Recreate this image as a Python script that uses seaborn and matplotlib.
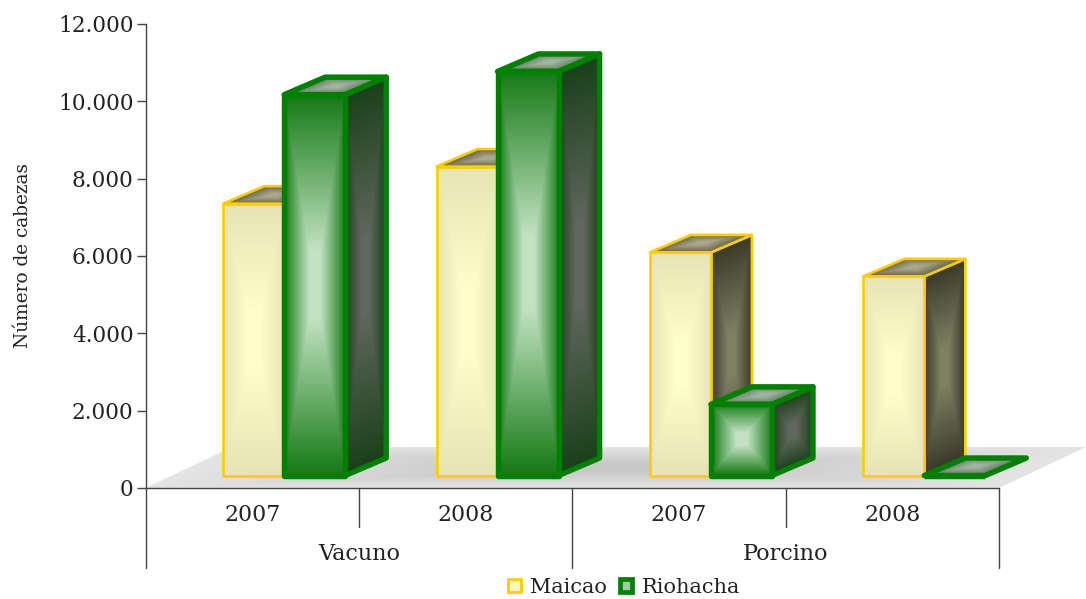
#!/usr/bin/env python

import numpy as np
import pandas as pd
import seaborn as sns
import matplotlib
matplotlib.use('Agg')
import matplotlib.pyplot as plt
from matplotlib.colors import to_rgb
from matplotlib.patches import Polygon, Patch
from matplotlib.ticker import FuncFormatter
from matplotlib.transforms import Affine2D, IdentityTransform

groups = ['Vacuno', 'Vacuno', 'Porcino', 'Porcino']
years = ['2007', '2008', '2007', '2008']
maicao = [7030, 7990, 5770, 5150]
riohacha = [9850, 10450, 1840, 0]
series_names = ['Maicao', 'Riohacha']
y_ticks = [0, 2000, 4000, 6000, 8000, 10000, 12000]

W, H = 1086, 599
FRONT_SHIFT = (32, 12.5)
DEPTH = (41, 17.5)
FLOOR_DEPTH = (87, 41)

styles = {
    'Maicao': dict(edge='#ffcc00', lw=1.9,
                   front=('#ffffcc', '#e6e4b2'),
                   side=('#808064', '#3a3a2a'),
                   top=('#aaa98e', '#65654c')),
    'Riohacha': dict(edge='#008000', lw=3.9,
                     front=('#c2e2c2', '#167a16'),
                     side=('#62685f', '#1a401a'),
                     top=('#a3b3a3', '#5a7a5a')),
}


def gradient(center, edge, n=160):
    # rectangular gradient, bright in the middle and dark at the border
    u, v = np.meshgrid(np.linspace(-1, 1, n), np.linspace(-1, 1, n))
    t = np.maximum(np.abs(u), np.abs(v))
    t = (np.clip(t - 0.18, 0, None) / 0.82)[..., None]
    return np.array(to_rgb(center)) * (1 - t) + np.array(to_rgb(edge)) * t


def fill_face(ax, p0, ex, ey, colors, z):
    # stretch a unit square image over the parallelogram, pixel coordinates
    tr = Affine2D.from_values(ex[0], ex[1], ey[0], ey[1], p0[0], p0[1])
    im = ax.imshow(gradient(*colors), extent=(0, 1, 0, 1), aspect='auto',
                   interpolation='bilinear', zorder=z)
    im.set_transform(tr)
    # the sheared image leaves black corners, so cut it to the face
    im.set_clip_box(ax.figure.bbox)
    im.set_clip_path(Polygon([p0, p0 + ex, p0 + ex + ey, p0 + ey], closed=True,
                             transform=IdentityTransform()))


def outline(ax, pts, style, z):
    ax.add_patch(Polygon(pts, closed=True, fill=False, edgecolor=style['edge'],
                         lw=style['lw'], joinstyle='round', clip_on=False,
                         transform=IdentityTransform(), zorder=z))


sns.set_style('white')
plt.rcParams['font.family'] = ['DejaVu Serif']
plt.rcParams['text.color'] = '#222222'

fig = plt.figure(figsize=(W / 100, H / 100), dpi=100)
ax = fig.add_axes([145.5 / W, (H - 488) / H, 853.5 / W, 464 / H])

keys = [g + ' ' + y for g, y in zip(groups, years)]
data = pd.DataFrame({
    'key': keys * 2,
    'value': maicao + riohacha,
    'serie': [series_names[0]] * 4 + [series_names[1]] * 4,
})
sns.barplot(data=data, x='key', y='value', hue='serie', order=keys,
            hue_order=series_names, width=0.572, gap=0, legend=False,
            fill=False, errorbar=None, ax=ax)

ax.set_xlim(-0.5, 3.5)
ax.set_ylim(0, 12000)
fig.canvas.draw()

# floor
a = ax.transData.transform((-0.5, 0))
b = ax.transData.transform((3.5, 0))
fd = np.array(FLOOR_DEPTH)
fill_face(ax, a, b - a, fd, ('#c8c8c8', '#e4e4e4'), 1)

# bars, left to right so the nearer faces cover the others
z = 3
shift = np.array(FRONT_SHIFT)
depth = np.array(DEPTH)
for i in range(len(keys)):
    for name, container in zip(series_names, ax.containers):
        bar = container.patches[i]
        st = styles[name]
        x0, x1 = bar.get_x(), bar.get_x() + bar.get_width()
        v = bar.get_height()
        p = ax.transData.transform((x0, 0)) + shift
        q = ax.transData.transform((x1, 0)) + shift
        r = ax.transData.transform((x1, v)) + shift
        s = ax.transData.transform((x0, v)) + shift
        if v > 0:
            fill_face(ax, q, depth, r - q, st['side'], z)
            outline(ax, [q, q + depth, r + depth, r], st, z + 1)
        fill_face(ax, s, r - s, depth, st['top'], z + 2)
        outline(ax, [s, r, r + depth, s + depth], st, z + 3)
        if v > 0:
            fill_face(ax, p, q - p, s - p, st['front'], z + 4)
        # seaborn's own bar is the outline of the front face
        bar.set_transform(ax.transData + Affine2D().translate(*shift))
        bar.set_edgecolor(st['edge'])
        bar.set_linewidth(st['lw'])
        bar.set_joinstyle('round')
        bar.set_clip_on(False)
        bar.set_zorder(z + 5)
        z += 6

ax.set_xlim(-0.5, 3.5)
ax.set_ylim(0, 12000)

# axes
sns.despine(ax=ax, top=True, right=True)
for side in ['left', 'bottom']:
    ax.spines[side].set_color('#444444')
    ax.spines[side].set_linewidth(1)
    ax.spines[side].set_zorder(z)
ax.set_yticks(y_ticks)
ax.yaxis.set_major_formatter(FuncFormatter(lambda v, _: f'{int(v):,}'.replace(',', '.')))
ax.tick_params(axis='y', left=True, length=6.5, width=1, color='#444444',
               labelsize=15.6, pad=2, labelcolor='#222222')
ax.set_xticks(range(len(keys)))
ax.set_xticklabels(years)
ax.tick_params(axis='x', bottom=False, labelsize=15.8, pad=8, labelcolor='#222222')
ax.set_xlabel('')
ax.set_ylabel('Número de cabezas', fontsize=13.3, labelpad=18.5, color='#222222')

# category separators below the axis
low = -39 / 464
deep = -80 / 464
xtrans = ax.get_xaxis_transform()
for x, y_end in [(-0.5, deep), (0.5, low), (1.5, deep), (2.5, low), (3.5, deep)]:
    ax.plot([x, x], [0, y_end], transform=xtrans, color='#444444', lw=1,
            clip_on=False, zorder=z)
for x, name in [(0.5, groups[0]), (2.5, groups[2])]:
    ax.text(x, -66 / 464, name, transform=xtrans, ha='center', va='center',
            fontsize=16, color='#222222')

handles = [Patch(facecolor='#f6f6c6', edgecolor='#ffcc00', lw=2),
           Patch(facecolor='#a5c8a5', edgecolor='#008000', lw=3.4)]
fig.legend(handles, series_names, ncol=2, frameon=False, fontsize=15,
           loc='center', bbox_to_anchor=(624 / W, 1 - 587.5 / H), handlelength=0.62,
           handleheight=0.62, handletextpad=0.45, columnspacing=0.6,
           labelcolor='#222222', borderpad=0)

fig.savefig('out.png', dpi=100)
